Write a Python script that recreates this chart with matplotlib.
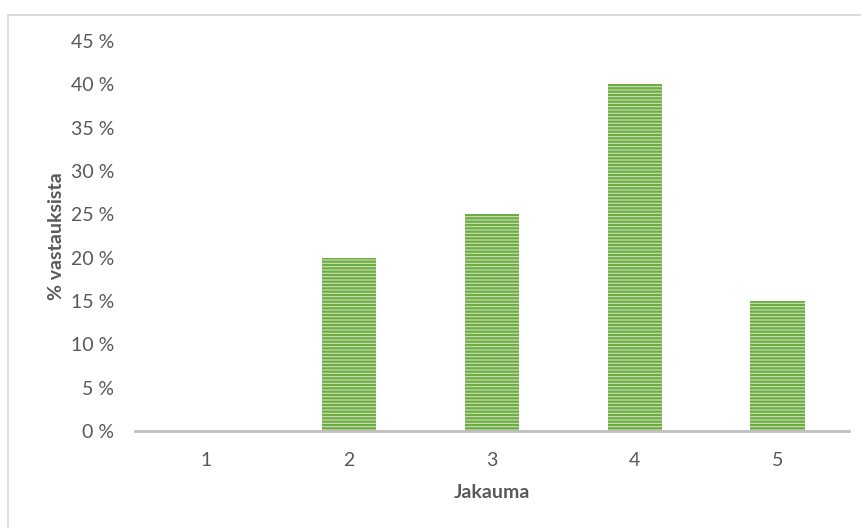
import matplotlib.pyplot as plt
from matplotlib.patches import Rectangle

categories = ["1", "2", "3", "4", "5"]
shares = [0.0, 0.20, 0.25, 0.40, 0.15]
y_ticks = [0.0, 0.05, 0.10, 0.15, 0.20, 0.25, 0.30, 0.35, 0.40, 0.45]
y_labels = ["0 %", "5 %", "10 %", "15 %", "20 %", "25 %", "30 %", "35 %", "40 %", "45 %"]

TEXT = "#595959"
W, H = 861, 528

plt.rcParams["font.family"] = ["Lato", "DejaVu Sans"]
plt.rcParams["hatch.linewidth"] = 1.6

fig = plt.figure(figsize=(W / 100, H / 100), dpi=100)

# chart frame (cropped on the right and bottom)
fig.patches.append(Rectangle((8 / W, -0.1), 1.2, 1 - 15 / H + 0.1,
                             transform=fig.transFigure, fill=False,
                             edgecolor="#d9d9d9", linewidth=1.3))

ax = fig.add_axes([135 / W, (H - 431) / H, 714 / W, 390 / H])

x = range(len(categories))
ax.bar(x, shares, width=0.38, facecolor="#c9e3b6", edgecolor="#6eab45",
       hatch="-----", linewidth=0, zorder=2)

ax.set_xlim(-0.5, len(categories) - 0.5)
ax.set_ylim(0, 0.45)
ax.set_xticks(list(x))
ax.set_xticklabels(categories)
ax.set_yticks(y_ticks)
ax.set_yticklabels(y_labels)
ax.tick_params(length=0, labelsize=14, labelcolor=TEXT)
ax.tick_params(axis="y", pad=15)
ax.tick_params(axis="x", pad=15)

for side in ["top", "right", "left"]:
    ax.spines[side].set_visible(False)
ax.spines["bottom"].set_color("#bfbfbf")
ax.spines["bottom"].set_linewidth(2)
ax.spines["bottom"].set_zorder(3)

ax.set_xlabel("Jakauma", fontsize=14, fontweight="bold", color=TEXT, labelpad=11)
ax.set_ylabel("% vastauksista", fontsize=14, fontweight="bold", color=TEXT, labelpad=4)

fig.savefig("out.png", dpi=100)
